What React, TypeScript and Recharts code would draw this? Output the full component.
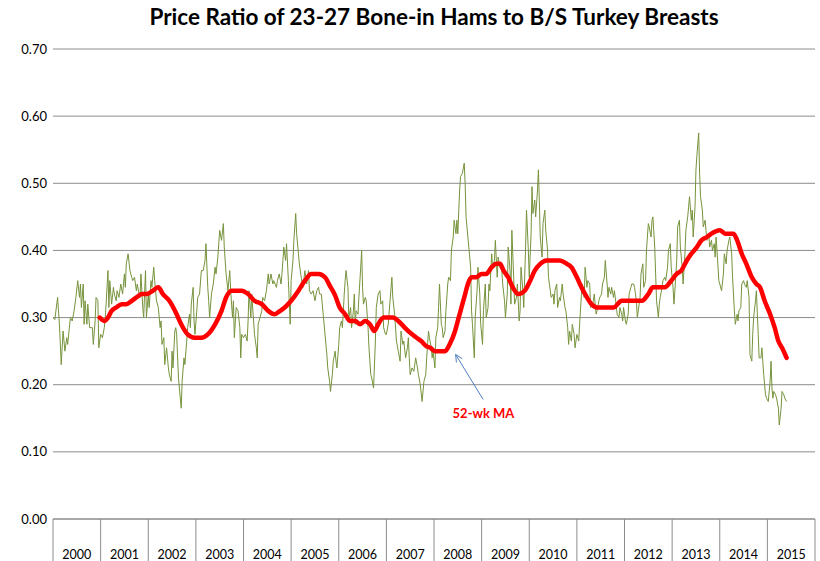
import { ComposedChart, Line, XAxis, YAxis, CartesianGrid, ReferenceLine, ReferenceDot } from 'recharts'

// weekly ratio, [week since Jan 2000, ratio]
const weeklyRatio: [number, number][] = [
  [0,.300],[2,.297],[5,.330],[7,.290],[9,.230],[11,.280],[13,.250],[15,.270],[16,.260],[19,.300],[21,.295],[23,.310],[25,.330],[27,.355],[29,.330],[30,.350],[31,.315],[33,.350],[34,.290],[35,.325],[37,.290],[38,.320],[40,.285],[43,.285],[44,.260],[46,.295],[47,.330],[49,.325],[50,.255],
  [52,.275],[54,.270],[56,.285],[57,.300],[58,.320],[60,.370],[61,.315],[62,.355],[64,.320],[66,.345],[67,.335],[69,.325],[70,.340],[72,.330],[74,.350],[76,.335],[78,.365],[79,.345],[80,.380],[82,.395],[84,.370],[86,.360],[87,.355],[89,.360],[91,.340],[92,.350],[94,.335],
  [95,.330],[96,.365],[98,.315],[99,.300],[101,.370],[102,.300],[104,.335],[105,.315],[107,.355],[108,.345],[110,.375],[111,.355],[113,.325],[115,.315],[117,.285],[118,.295],[119,.260],[121,.270],[122,.230],[124,.255],[126,.225],[127,.215],[129,.205],[130,.250],[131,.225],[133,.280],[134,.285],[135,.275],[137,.210],[138,.195],[140,.165],[141,.205],[143,.240],[144,.230],[146,.265],[147,.285],[149,.305],[150,.285],[151,.320],[153,.345],[154,.295],
  [155,.275],[157,.310],[158,.330],[160,.335],[162,.370],[164,.370],[166,.385],[167,.410],[169,.345],[170,.325],[171,.300],[173,.335],[175,.350],[177,.375],[178,.365],[180,.390],[182,.430],[184,.415],[186,.440],[187,.405],[189,.365],[191,.340],[193,.370],[194,.340],[196,.300],[197,.325],[198,.270],
  [200,.315],[202,.310],[204,.285],[205,.240],[206,.275],[208,.270],[210,.275],[212,.265],[213,.295],[214,.340],[216,.300],[217,.335],[219,.295],[220,.275],[222,.255],[223,.240],[224,.290],[226,.300],[228,.310],[229,.330],[231,.325],[233,.340],[235,.365],[236,.350],[238,.365],[240,.350],[241,.355],[244,.345],[245,.355],[247,.365],[249,.350],[250,.365],[252,.405],[254,.385],[255,.410],[257,.355],[259,.290],
  [260,.355],[262,.385],[263,.415],[265,.455],[266,.425],[268,.395],[269,.380],[271,.360],[273,.345],[275,.370],[277,.350],[279,.370],[280,.340],[282,.335],[284,.340],[286,.325],[288,.340],[290,.345],[291,.335],[293,.335],[295,.305],[297,.275],[299,.245],[300,.225],[302,.205],[303,.190],[305,.215],[306,.235],[308,.250],
  [309,.235],[310,.225],[312,.260],[313,.285],[315,.295],[316,.285],[318,.335],[319,.355],[320,.370],[322,.345],[323,.300],[325,.315],[326,.285],[328,.310],[329,.335],[330,.290],[331,.310],[333,.305],[334,.330],[336,.375],[337,.400],[338,.345],[339,.320],[341,.330],[342,.325],[344,.285],[345,.255],[347,.215],[348,.210],[350,.195],[352,.265],[353,.315],[355,.335],[357,.340],[358,.320],[360,.325],[361,.285],
  [363,.275],[364,.275],[366,.290],[368,.325],[370,.360],[371,.330],[373,.305],[375,.265],[377,.250],[379,.235],[380,.280],[382,.260],[383,.265],[385,.240],[387,.255],[388,.270],[389,.240],[390,.215],[392,.225],[394,.220],[396,.240],[398,.225],[399,.215],[401,.200],[403,.175],[405,.205],[407,.215],
  [408,.240],[410,.280],[411,.270],[413,.255],[414,.240],[415,.250],[417,.225],[418,.270],[420,.285],[421,.315],[422,.350],[424,.290],[425,.285],[426,.270],[428,.280],[429,.310],[431,.350],[432,.360],[434,.355],[435,.400],[437,.420],[438,.445],[440,.425],[441,.445],[442,.425],[444,.490],[445,.510],[447,.515],[449,.530],[450,.500],[451,.450],[453,.420],[454,.405],[456,.375],[457,.310],[458,.290],[460,.240],
  [461,.300],[463,.340],[464,.375],[466,.335],[467,.290],[469,.260],[470,.310],[472,.350],[473,.300],[475,.315],[476,.350],[477,.340],[479,.395],[480,.375],[482,.385],[483,.415],[485,.360],[486,.390],[488,.375],[490,.370],[491,.350],[493,.325],[494,.300],[496,.335],[497,.405],[499,.370],[500,.320],[501,.430],[503,.360],[504,.320],[506,.330],[507,.350],[509,.295],
  [510,.310],[511,.375],[513,.340],[514,.315],[516,.405],[517,.460],[519,.400],[520,.360],[522,.425],[523,.495],[524,.455],[526,.475],[527,.450],[529,.490],[530,.520],[531,.475],[532,.420],[534,.390],[535,.440],[537,.460],[538,.430],[540,.400],[541,.360],[543,.340],[544,.330],[546,.335],[547,.320],[548,.340],[550,.350],[551,.315],[553,.330],[554,.325],[556,.350],[557,.335],[559,.315],[560,.310],
  [562,.285],[563,.260],[564,.280],[566,.265],[567,.290],[569,.275],[570,.255],[572,.275],[574,.265],[575,.290],[577,.335],[578,.350],[580,.330],[581,.375],[583,.345],[584,.355],[586,.350],[587,.315],[589,.320],[590,.325],[591,.335],[593,.305],[594,.310],[596,.325],[597,.330],[599,.335],[600,.350],[602,.360],[603,.385],[605,.350],[606,.330],[607,.345],[609,.335],[610,.345],[612,.330],[613,.340],
  [616,.305],[618,.300],[619,.315],[621,.305],[622,.295],[623,.315],[625,.295],[626,.290],[628,.305],[629,.335],[631,.345],[632,.350],[634,.350],[635,.345],[637,.325],[638,.300],[639,.310],[641,.330],[642,.365],[644,.380],[645,.345],[647,.355],[648,.400],[650,.440],[651,.435],[653,.420],[654,.445],[655,.450],[657,.405],[658,.365],[659,.325],[661,.300],[662,.320],[663,.330],
  [665,.345],[666,.355],[668,.360],[669,.355],[671,.375],[672,.400],[674,.410],[675,.375],[677,.345],[678,.320],[679,.340],[681,.385],[682,.435],[684,.445],[685,.405],[687,.375],[688,.350],[690,.395],[691,.430],[693,.450],[694,.465],[695,.480],[697,.445],[698,.460],[699,.420],[701,.465],[702,.520],[703,.540],[705,.575],[706,.515],[707,.480],[709,.460],[710,.435],[712,.445],[713,.430],[714,.415],[716,.425],[717,.405],[719,.415],[720,.400],[722,.410],[723,.390],
  [724,.420],[725,.400],[727,.355],[728,.350],[730,.340],[732,.365],[733,.395],[735,.380],[736,.400],[738,.415],[739,.420],[741,.395],[742,.360],[744,.310],[745,.290],[747,.305],[748,.295],[749,.310],[751,.315],[752,.350],[754,.355],[755,.350],[757,.345],[758,.355],[760,.330],[761,.245],[763,.235],[764,.275],[765,.300],[767,.325],[768,.340],[770,.275],[771,.240],[773,.240],[774,.255],[775,.235],[776,.215],[778,.185],[779,.180],
  [781,.175],[783,.205],[784,.235],[785,.195],[786,.180],[787,.190],[789,.185],[790,.180],[792,.165],[793,.140],[795,.165],[796,.190],[798,.185],[799,.180],[801,.175],
]

// 52-week moving average, [week, ratio]
const movingAvg52: [number, number][] = [
  [51,.300],[56,.295],[60,.300],[64,.310],[69,.315],[75,.320],[80,.320],[86,.325],[91,.330],[97,.335],[102,.335],[109,.340],[115,.345],[120,.335],[127,.325],[135,.305],[140,.290],[147,.275],[155,.270],[162,.270],[169,.275],[177,.290],[184,.310],[189,.330],[195,.340],[200,.340],[206,.340],
  [213,.335],[220,.325],[228,.320],[235,.310],[242,.305],[248,.310],[253,.315],[260,.325],[268,.340],[275,.355],[282,.365],[290,.365],[297,.360],[302,.348],[308,.333],[313,.315],[319,.305],[324,.295],[330,.295],[335,.290],[341,.295],[346,.290],[351,.280],[355,.290],[361,.300],[366,.300],[371,.300],[377,.295],
  [384,.285],[392,.275],[397,.270],[402,.265],[408,.257],[412,.255],[417,.250],[422,.250],[428,.250],[433,.260],[439,.280],[442,.295],[446,.315],[450,.335],[453,.350],[457,.360],[462,.360],[468,.365],[473,.365],[479,.375],[484,.380],[488,.380],[492,.370],[497,.360],[502,.345],[508,.335],
  [515,.340],[521,.355],[526,.370],[532,.380],[539,.385],[546,.385],[553,.385],[561,.380],[566,.375],[572,.360],[577,.345],[583,.330],[588,.320],[594,.315],[599,.315],[605,.315],[612,.315],[621,.325],[628,.325],[635,.325],[643,.325],[650,.335],[655,.345],[661,.345],[668,.345],[675,.355],[681,.365],
  [686,.370],[692,.385],[697,.395],[703,.405],[708,.415],[714,.420],[719,.425],[728,.430],[734,.425],[739,.425],[743,.425],[747,.415],[752,.395],[757,.380],[763,.360],[768,.350],[772,.345],[777,.325],[783,.305],[788,.285],[792,.265],[796,.255],[801,.240],
]

const years = ['2000','2001','2002','2003','2004','2005','2006','2007','2008','2009','2010','2011','2012','2013','2014','2015']
const yTicks = [0, 0.1, 0.2, 0.3, 0.4, 0.5, 0.6, 0.7]
const WEEKS = 52

// annotation: arrow from label up to the MA line
const arrowTip = { w: 439.6, v: 0.245 }
const arrowTail = { w: 469.7, v: 0.178 }
const maLabel = { w: 470, v: 0.158, text: '52-wk MA' }

const W = 820
const H = 561
const Y_AXIS_W = 53
const X_AXIS_H = 42
const MARGIN = { top: 49, right: 5, left: 0, bottom: 0 }
const PLOT_W = W - Y_AXIS_W - MARGIN.left - MARGIN.right
const SEG = PLOT_W / years.length
const FONT = 'Lato, Carlito, Calibri, sans-serif'
const GRID = '#8c8c8c'

const ratioData = weeklyRatio.map(([w, v]) => ({ w, v }))
const maData = movingAvg52.map(([w, v]) => ({ w, v }))
const boundaries = [...years.map((_, i) => i * WEEKS), years.length * WEEKS]

function YearTick(props: any) {
  const { x, y, payload } = props
  const i = Math.round(payload.value / WEEKS)
  return (
    <g>
      <line x1={x} y1={y} x2={x} y2={y + X_AXIS_H} stroke={GRID} />
      {i < years.length && (
        <text x={x + SEG / 2} y={y + 40} textAnchor="middle" fontSize={12.5} fill="#000" fontFamily={FONT}>
          {years[i]}
        </text>
      )}
    </g>
  )
}

function ArrowShape(props: any) {
  const { x1, y1, x2, y2 } = props
  const a = Math.atan2(y2 - y1, x2 - x1)
  const len = 8
  const spread = 0.45
  const hx1 = x1 + len * Math.cos(a + spread)
  const hy1 = y1 + len * Math.sin(a + spread)
  const hx2 = x1 + len * Math.cos(a - spread)
  const hy2 = y1 + len * Math.sin(a - spread)
  return (
    <g stroke="#4f7fbf" strokeWidth={1} fill="none">
      <line x1={x1} y1={y1} x2={x2} y2={y2} />
      <polyline points={`${hx1},${hy1} ${x1},${y1} ${hx2},${hy2}`} />
    </g>
  )
}

function LabelShape(props: any) {
  return (
    <text x={props.cx} y={props.cy} textAnchor="middle" dominantBaseline="central"
      fontSize={13} fontWeight="bold" fill="#ff0000" fontFamily={FONT}>
      {maLabel.text}
    </text>
  )
}

export default function App() {
  return (
    <div style={{ position: 'absolute', left: 0, top: 0, width: W, height: H, background: '#fff', fontFamily: FONT }}>
      <div style={{
        position: 'absolute', left: Y_AXIS_W, width: PLOT_W, top: 3, textAlign: 'center',
        fontSize: 22.5, fontWeight: 'bold', color: '#000', lineHeight: '28px',
      }}>
        Price Ratio of 23-27 Bone-in Hams to B/S Turkey Breasts
      </div>
      <ComposedChart width={W} height={H} margin={MARGIN}>
        <CartesianGrid vertical={false} stroke={GRID} horizontalValues={yTicks} />
        <XAxis
          dataKey="w"
          type="number"
          domain={[0, years.length * WEEKS]}
          ticks={boundaries}
          interval={0}
          height={X_AXIS_H}
          tickSize={0}
          tickMargin={0}
          tickLine={false}
          axisLine={{ stroke: GRID }}
          tick={<YearTick />}
          allowDataOverflow
        />
        <YAxis
          type="number"
          domain={[0, 0.7]}
          ticks={yTicks}
          width={Y_AXIS_W}
          axisLine={false}
          tickLine={false}
          tickSize={0}
          tickMargin={6}
          tickFormatter={(v: number) => v.toFixed(2)}
          tick={{ fontSize: 13, fill: '#000', fontFamily: FONT }}
        />
        <Line data={ratioData} dataKey="v" type="linear" stroke="#77933c" strokeWidth={1}
          dot={false} activeDot={false} isAnimationActive={false} />
        <Line data={maData} dataKey="v" type="monotone" stroke="#ff0000" strokeWidth={4.5}
          strokeLinejoin="round" strokeLinecap="round"
          dot={false} activeDot={false} isAnimationActive={false} />
        <ReferenceLine
          segment={[{ x: arrowTip.w, y: arrowTip.v }, { x: arrowTail.w, y: arrowTail.v }]}
          shape={<ArrowShape />}
        />
        <ReferenceDot x={maLabel.w} y={maLabel.v} r={0} ifOverflow="visible" shape={<LabelShape />} />
      </ComposedChart>
    </div>
  )
}
